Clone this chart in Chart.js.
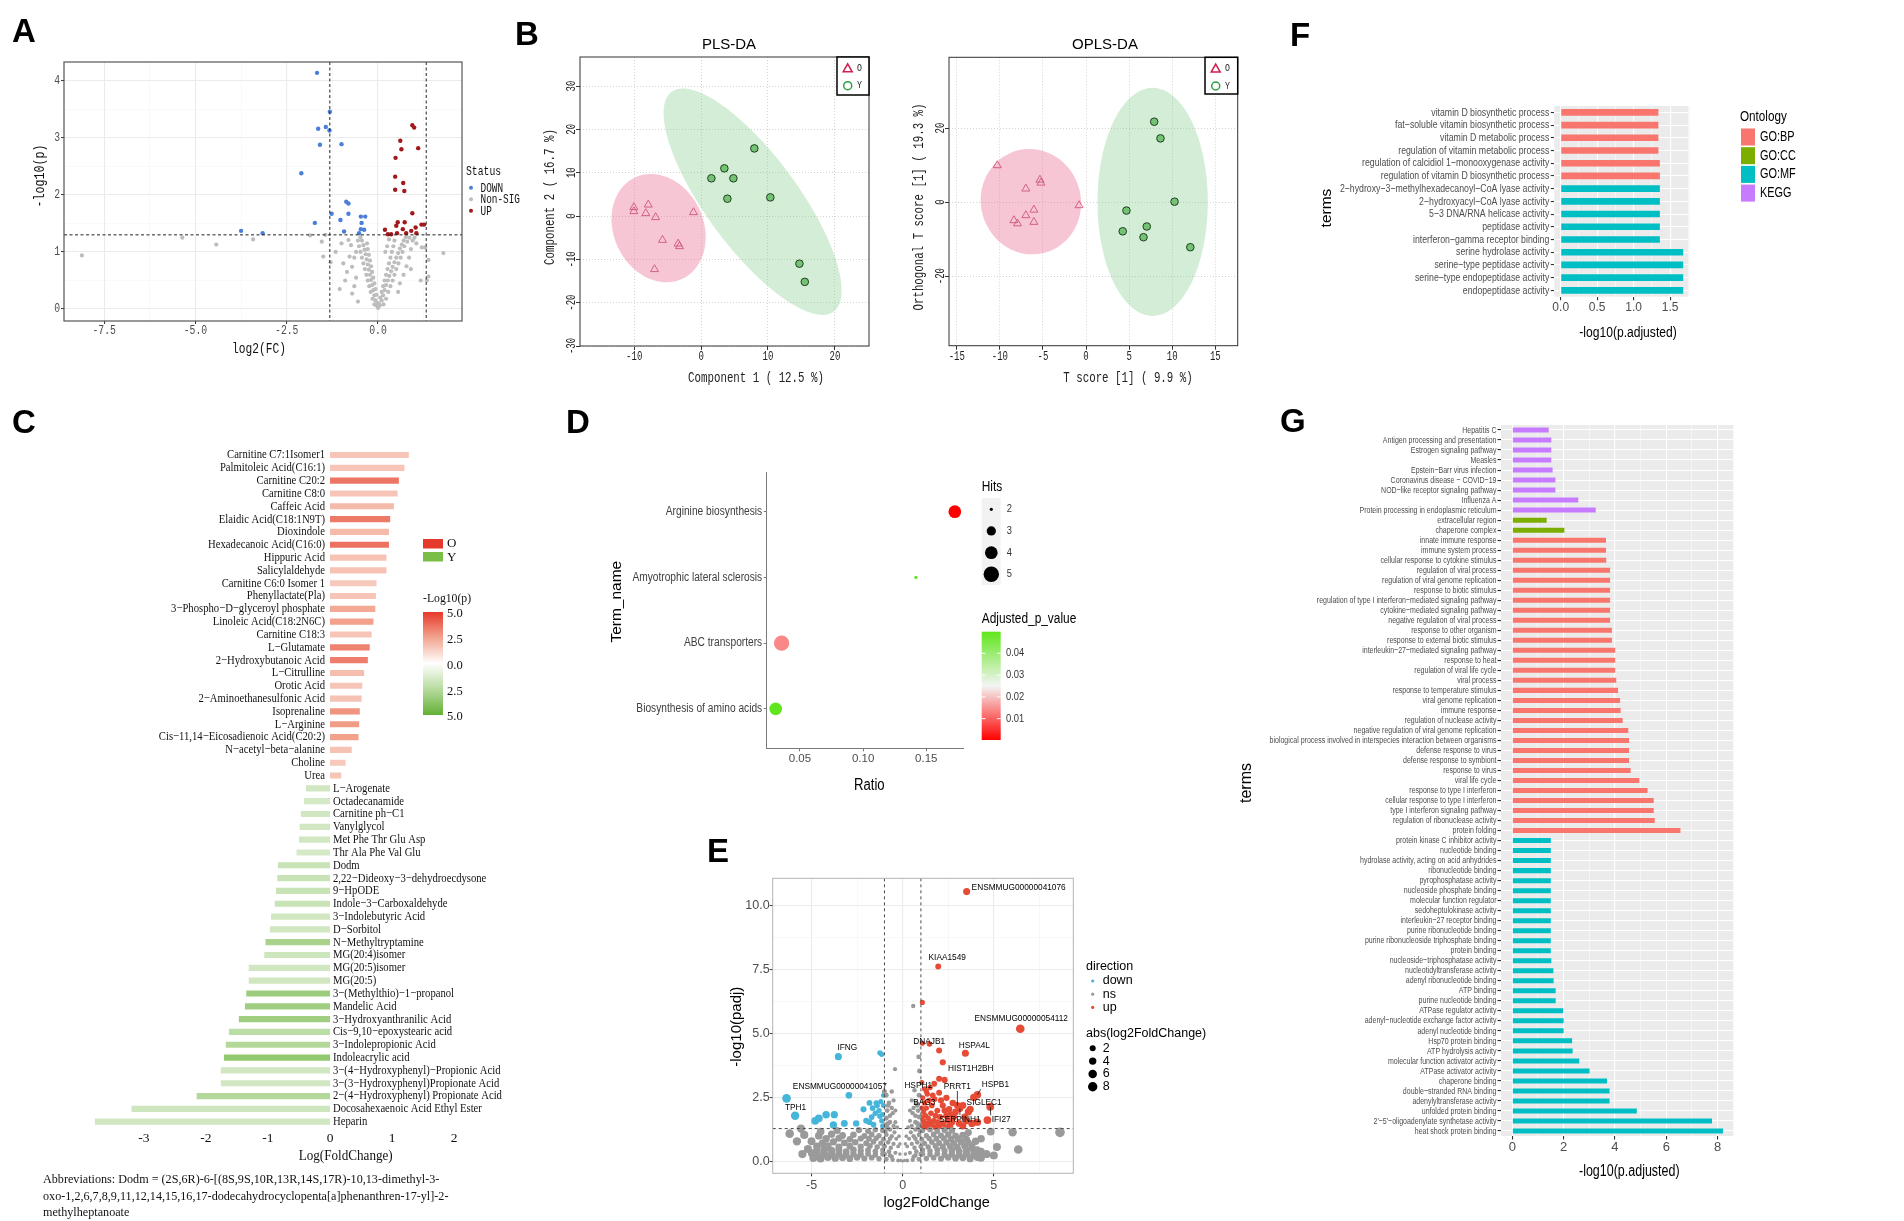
<!DOCTYPE html>
<html>
<head>
<meta charset="utf-8">
<title>Metabolomics / transcriptomics figure</title>
<script src="https://cdn.jsdelivr.net/npm/chart.js@4.4.1/dist/chart.umd.min.js"></script>
<style>
  html, body { margin: 0; padding: 0; background: #fff; }
  #page { position: relative; width: 1904px; height: 1221px; overflow: hidden; background: #fff; }
  #page canvas { position: absolute; left: 0; top: 0; }
  .tag { position: absolute; font: bold 33px 'Liberation Sans', Arial, sans-serif; line-height: 33px; color: #000; }
  #abbr { position: absolute; left: 43px; top: 1171px; font: 13.5px 'Liberation Serif', serif; line-height: 16.5px; color: #111;
          white-space: nowrap; transform: scaleX(0.9); transform-origin: 0 0; }
</style>
</head>
<body>
<div id="page">
  <canvas id="chartA" width="1904" height="1221"></canvas>
  <canvas id="chartB1" width="1904" height="1221"></canvas>
  <canvas id="chartB2" width="1904" height="1221"></canvas>
  <canvas id="chartC" width="1904" height="1221"></canvas>
  <canvas id="chartD" width="1904" height="1221"></canvas>
  <canvas id="chartE" width="1904" height="1221"></canvas>
  <canvas id="chartF" width="1904" height="1221"></canvas>
  <canvas id="chartG" width="1904" height="1221"></canvas>
  <div class="tag" style="left:12px;top:14px">A</div>
  <div class="tag" style="left:515px;top:17px">B</div>
  <div class="tag" style="left:1290px;top:18px">F</div>
  <div class="tag" style="left:12px;top:405px">C</div>
  <div class="tag" style="left:566px;top:405px">D</div>
  <div class="tag" style="left:707px;top:834px">E</div>
  <div class="tag" style="left:1280px;top:404px">G</div>
  <div id="abbr">Abbreviations: Dodm = (2S,6R)-6-[(8S,9S,10R,13R,14S,17R)-10,13-dimethyl-3-<br>oxo-1,2,6,7,8,9,11,12,14,15,16,17-dodecahydrocyclopenta[a]phenanthren-17-yl]-2-<br>methylheptanoate</div>
</div>
<script>
// ---------------- data ----------------
// A: volcano of metabolites, [log2(FC), -log10(p)]
const aDown = [[-1.67,4.14],[-1.32,3.46],[-1.64,3.16],[-1.43,3.19],[-1.33,3.13],[-1.59,2.88],[-1.0,2.89],[-2.1,2.38],
  [-0.87,1.88],[-0.81,1.85],[-1.27,1.67],[-0.81,1.67],[-1.73,1.51],[-1.03,1.56],[-0.47,1.62],[-0.35,1.62],[-0.45,1.51],
  [-3.75,1.37],[-3.16,1.33],[-0.93,1.36],[-0.47,1.40],[-0.38,1.39],[-0.52,1.33]];
const aUp = [[0.94,3.22],[0.99,3.18],[0.61,2.95],[0.64,2.80],[1.10,2.82],[0.48,2.65],[0.47,2.32],[0.69,2.21],[0.47,2.09],
  [0.72,2.07],[0.94,1.68],[0.54,1.52],[0.73,1.52],[0.50,1.46],[1.03,1.43],[1.19,1.48],[1.26,1.48],[0.19,1.39],[0.68,1.40],
  [0.91,1.37],[0.27,1.31],[0.36,1.31],[0.52,1.33],[0.77,1.33],[1.05,1.33]];
const aNonSig = [[-8.11,0.94],[-5.36,1.25],[-4.43,1.13],[-3.42,1.22],
  [0,0.02],[-0.02,0.1],[0.02,0.1],
  [-0.04,0.06],[-0.07,0.15],[-0.1,0.24],[-0.13,0.33],[-0.16,0.42],[-0.19,0.51],[-0.22,0.6],[-0.25,0.69],[-0.28,0.78],
  [-0.31,0.87],[-0.34,0.96],[-0.37,1.04],[-0.4,1.12],[-0.44,1.2],[-0.48,1.26],
  [-0.1,0.08],[-0.15,0.18],[-0.2,0.3],[-0.24,0.4],[-0.28,0.5],[-0.32,0.6],[-0.36,0.7],[-0.4,0.8],[-0.44,0.9],[-0.48,1.0],
  [-0.52,1.1],[-0.55,1.2],
  [-0.04,0.25],[-0.07,0.35],[-0.1,0.45],[-0.13,0.55],[-0.16,0.65],[-0.19,0.75],[-0.22,0.85],[-0.25,0.95],[-0.28,1.05],[-0.3,1.15],
  [-0.81,1.21],[-0.74,1.12],[-0.78,0.92],[-0.71,0.74],[-0.9,0.5],[-0.71,0.27],[-0.55,0.13],[-1.16,1.0],[-1.3,0.82],
  [-1.5,0.92],[-1.54,1.18],[-1.44,1.3],[-1.86,1.29],[-0.6,0.55],[-0.65,0.9],[-0.85,0.65],[-0.95,0.8],[-1.05,0.35],
  [-0.6,1.0],[-1.0,1.15],[-0.65,0.4],
  [0.05,0.06],[0.1,0.15],[0.14,0.24],[0.18,0.33],[0.22,0.42],[0.27,0.5],[0.31,0.58],[0.36,0.66],[0.4,0.74],[0.45,0.82],
  [0.5,0.9],[0.55,0.98],[0.6,1.06],[0.65,1.13],[0.7,1.2],[0.76,1.26],
  [0.06,0.2],[0.1,0.3],[0.14,0.4],[0.18,0.5],[0.22,0.6],[0.26,0.7],[0.3,0.8],[0.34,0.9],[0.38,1.0],[0.42,1.1],[0.45,1.2],
  [0.15,0.08],[0.22,0.18],[0.28,0.3],[0.34,0.4],[0.4,0.5],[0.45,0.6],[0.5,0.7],[0.56,0.8],[0.62,0.9],[0.67,1.0],[0.72,1.1],
  [0.8,1.18],[0.86,1.25],
  [0.6,0.45],[0.7,0.6],[0.78,0.75],[0.85,0.9],[0.9,1.05],[0.95,1.2],[1.0,1.25],[0.55,0.3],[0.9,0.7],[1.2,1.08],[1.29,1.08],
  [1.38,0.86],[1.38,0.57],[1.17,0.5],[1.34,0.5],[1.79,0.98],[1.05,1.15],[0.3,1.22],[0.25,1.1],[0.2,1.0]];
const aXTicks = [-7.5, -6.25, -5, -3.75, -2.5, -1.25, 0, 1.25];
const aYTicks = [0, 0.5, 1, 1.5, 2, 2.5, 3, 3.5, 4];
const aFcCut = 1.32, aPCut = 1.3;
const aStatus = ['DOWN', 'Non-SIG', 'UP'];

// B: PLS-DA / OPLS-DA scores
const plsO = [[-10.05,2.0],[-10.05,1.08],[-7.9,2.6],[-8.26,0.62],[-6.8,-0.3],[-5.77,-5.54],[-3.43,-6.4],[-3.23,-7.0],[-1.14,0.85],[-6.96,-12.3]];
const plsY = [[1.54,8.7],[3.48,11.0],[4.83,8.7],[3.93,4.0],[7.96,15.6],[10.35,4.3],[14.7,-11.0],[15.5,-15.2]];
const oplsO = [[-10.3,9.9],[-5.35,6.0],[-5.23,5.2],[-6.98,3.6],[-0.81,-0.9],[-6.05,-2.1],[-6.98,-3.6],[-8.37,-4.95],[-7.95,-5.8],[-6.05,-5.4]];
const oplsY = [[7.91,21.7],[8.64,17.2],[10.27,0.1],[4.69,-2.3],[7.05,-6.6],[4.26,-7.9],[6.67,-9.5],[12.1,-12.2]];
// confidence ellipses: centre x, centre y, semi-axis u (x,y), semi-axis v (x,y)
const plsEllO = [-6.35, -2.8, 3.53, -11.7, 6.09, 4.39];
const plsEllY = [7.7, 3.3, 12.07, -25.4, 5.61, 6.12];
const oplsEllO = [-6.4, 0.1, 1.6, -13.8, 5.6, 3.5];
const oplsEllY = [7.73, 0.05, 0, 30.8, 6.4, 0];
const plsXTicks = [-10, 0, 10, 20], plsYTicks = [-30, -20, -10, 0, 10, 20, 30];
const oplsXTicks = [-15, -10, -5, 0, 5, 10, 15], oplsYTicks = [-20, 0, 20];

// C: differential metabolites
const cNames = ['Carnitine C7:1Isomer1','Palmitoleic Acid(C16:1)','Carnitine C20:2','Carnitine C8:0','Caffeic Acid',
  'Elaidic Acid(C18:1N9T)','Dioxindole','Hexadecanoic Acid(C16:0)','Hippuric Acid','Salicylaldehyde','Carnitine C6:0 Isomer 1',
  'Phenyllactate(Pla)','3−Phospho−D−glyceroyl phosphate','Linoleic Acid(C18:2N6C)','Carnitine C18:3','L−Glutamate',
  '2−Hydroxybutanoic Acid','L−Citrulline','Orotic Acid','2−Aminoethanesulfonic Acid','Isoprenaline','L−Arginine',
  'Cis−11,14−Eicosadienoic Acid(C20:2)','N−acetyl−beta−alanine','Choline','Urea',
  'L−Arogenate','Octadecanamide','Carnitine ph−C1','Vanylglycol','Met Phe Thr Glu Asp','Thr Ala Phe Val Glu','Dodm',
  '2,22−Dideoxy−3−dehydroecdysone','9−HpODE','Indole−3−Carboxaldehyde','3−Indolebutyric Acid','D−Sorbitol',
  'N−Methyltryptamine','MG(20:4)isomer','MG(20:5)isomer','MG(20:5)','3−(Methylthio)−1−propanol','Mandelic Acid',
  '3−Hydroxyanthranilic Acid','Cis−9,10−epoxystearic acid','3−Indolepropionic Acid','Indoleacrylic acid',
  '3−(4−Hydroxyphenyl)−Propionic Acid','3−(3−Hydroxyphenyl)Propionate Acid','2−(4−Hydroxyphenyl) Propionate Acid',
  'Docosahexaenoic Acid Ethyl Ester','Heparin'];
const cLogFC = [1.27,1.20,1.11,1.09,1.03,0.97,0.95,0.95,0.91,0.91,0.75,0.74,0.73,0.70,0.67,0.64,0.61,0.55,0.52,0.51,0.48,0.47,0.46,0.35,0.25,0.18,
  -0.39,-0.42,-0.47,-0.49,-0.50,-0.54,-0.84,-0.85,-0.87,-0.89,-0.95,-0.97,-1.04,-1.06,-1.31,-1.31,-1.35,-1.37,-1.47,-1.63,-1.68,-1.71,-1.76,-1.76,-2.15,-3.20,-3.79];
const cLogP = [1.6,1.6,3.6,1.6,1.9,3.5,1.9,3.7,1.7,1.7,1.5,1.6,2.4,2.6,1.6,3.3,3.4,1.8,1.6,1.7,2.9,2.7,2.6,1.7,1.5,1.6,
  1.6,1.5,1.6,1.6,1.6,1.5,1.9,1.9,1.9,1.9,1.6,1.6,2.9,1.7,1.6,1.6,3.3,3.2,3.2,2.3,2.6,3.6,1.6,1.6,2.6,1.7,1.6];
const cXTicks = [-3, -2, -1, 0, 1, 2];
const cBarLabels = ['5.0', '2.5', '0.0', '2.5', '5.0'];

// D: pathway enrichment bubbles
const dTerms = ['Arginine biosynthesis', 'Amyotrophic lateral sclerosis', 'ABC transporters', 'Biosynthesis of amino acids'];
const dRatio = [0.1726, 0.1418, 0.0355, 0.0308];
const dHits = [4, 2, 5, 4];
const dPadj = [0.0002, 0.0499, 0.014, 0.0495];
const dXTicks = [0.05, 0.10, 0.15];
const dHitKeys = [2, 3, 4, 5];
const dBarTicks = [0.04, 0.03, 0.02, 0.01];

// E: volcano of genes, [log2FoldChange, -log10(padj)]
const eUp = [[3.51,10.56],[1.95,7.63],[1.08,6.23],[6.45,5.2],[1.08,4.63],[1.47,4.6],[2.0,4.35],[3.44,4.24],[2.2,3.89],
  [2.0,3.25],[1.73,3.05],[4.1,2.62],[3.9,2.52],[3.0,2.2],[3.3,2.2],[3.7,2.05],[4.8,2.15],[4.65,1.63],[4.1,1.55],[3.14,2.08],[1.35,2.65],
  [1.1,2.5],[1.2,2.3],[1.3,2.1],[1.15,1.95],[1.25,1.8],[1.4,1.7],[1.5,1.55],[1.1,1.5],[1.2,1.4],[1.35,1.35],[1.6,1.45],
  [1.7,1.6],[1.8,1.8],[1.9,2.0],[1.6,2.2],[1.45,2.4],[1.3,2.75],[1.2,2.85],[1.5,2.9],[1.65,2.6],[2.0,2.7],[2.1,2.4],
  [2.2,2.2],[2.3,2.0],[2.4,1.8],[2.5,1.6],[2.2,1.5],[2.0,1.4],[2.6,1.4],[2.7,1.55],[2.8,1.75],[2.9,1.95],[2.55,2.05],
  [2.75,2.3],[2.4,2.5],[1.05,1.75],[1.05,2.1],[1.8,1.35],[2.35,1.35],[3.1,1.5],[3.3,1.4],[3.5,1.6],[3.8,1.5],[3.6,1.95],
  [3.4,1.75],[1.75,2.45],[2.05,1.75],[1.55,1.9],[1.9,1.55],[2.6,1.85],[1.05,3.1],[2.3,3.2],[1.05,1.4],[1.15,1.6],[1.3,1.5]];
const eDown = [[-6.37,2.48],[-5.9,1.8],[-4.8,1.6],[-4.6,1.7],[-4.2,1.84],[-3.75,1.84],[-3.8,1.44],[-3.2,1.5],[-2.55,1.5],
  [-2.15,2.05],[-1.82,2.3],[-1.65,2.1],[-1.45,2.3],[-1.25,1.78],[-1.82,1.55],[-1.6,1.45],[-1.15,1.6],[-1.05,2.2],[-1.4,2.2],
  [-1.1,1.85],[-1.3,2.0],[-1.2,2.35],[-1.05,2.6],[-1.7,1.75],[-3.53,4.11],[-1.25,4.26],[-1.15,4.2],[-2.95,2.6],[-1.5,1.9],
  [-2.0,1.6],[-1.1,1.4]];
const eNs = [[-4.9,0.15],[-4.5,0.12],[-4.1,0.18],[-3.7,0.14],[-3.3,0.16],[-2.9,0.12],[-2.5,0.17],[-2.1,0.13],[-1.7,0.16],
  [-1.3,0.12],[-0.9,0.1],[-0.55,0.08],[-0.25,0.05],[0.25,0.05],[0.55,0.08],[0.9,0.1],[1.3,0.13],[1.7,0.16],[2.1,0.12],
  [2.5,0.17],[2.9,0.14],[3.3,0.16],[3.7,0.12],[4.1,0.18],[4.6,0.3],
  [-4.7,0.28],[-4.3,0.3],[-3.9,0.29],[-3.5,0.31],[-3.1,0.27],[-2.7,0.3],[-2.3,0.28],[-1.9,0.31],[-1.5,0.27],[-1.1,0.3],
  [-0.7,0.25],[0.7,0.25],[1.1,0.3],[1.5,0.28],[1.9,0.31],[2.3,0.27],[2.7,0.3],[3.1,0.28],[3.5,0.31],[3.9,0.27],[4.3,0.15],
  [-5.2,0.5],[-4.7,0.42],[-4.3,0.48],[-3.9,0.44],[-3.5,0.46],[-3.1,0.4],[-2.7,0.47],[-2.3,0.43],[-1.9,0.45],[-1.5,0.41],
  [-1.1,0.46],[-0.75,0.4],[-0.4,0.35],[0.4,0.35],[0.75,0.4],[1.1,0.46],[1.5,0.42],[1.9,0.47],[2.3,0.43],[2.7,0.46],
  [3.1,0.41],[3.5,0.45],[3.9,0.43],[4.3,0.4],
  [-4.7,0.6],[-4.1,0.62],[-3.5,0.58],[-2.9,0.61],[-2.3,0.59],[-1.8,0.62],[-1.4,0.58],[-1.0,0.61],[-0.65,0.55],[0.65,0.55],
  [1.0,0.6],[1.4,0.58],[1.8,0.62],[2.2,0.59],[2.6,0.61],[3.0,0.57],[3.4,0.62],[3.8,0.6],
  [-5.0,0.8],[-4.4,0.72],[-3.8,0.78],[-3.2,0.74],[-2.6,0.76],[-2.0,0.72],[-1.6,0.78],[-1.2,0.73],[-0.8,0.76],[-0.5,0.7],
  [0.5,0.7],[0.8,0.76],[1.2,0.72],[1.6,0.77],[2.0,0.73],[2.4,0.76],[2.8,0.72],[3.2,0.78],[3.6,0.74],[4.0,0.8],
  [-4.2,0.9],[-3.5,0.92],[-2.9,0.88],[-2.3,0.91],[-1.85,0.9],[-1.45,0.92],[-1.05,0.88],[-0.7,0.9],[0.7,0.9],[1.05,0.88],
  [1.45,0.91],[1.85,0.9],[2.25,0.92],[2.65,0.89],[3.05,0.9],[3.5,0.88],
  [-5.4,1.05],[-4.6,1.02],[-3.9,1.08],[-3.3,1.03],[-2.7,1.06],[-2.1,1.01],[-1.7,1.07],[-1.3,1.02],[-0.9,1.06],[-0.6,1.0],
  [0.6,1.0],[0.9,1.05],[1.3,1.02],[1.7,1.07],[2.1,1.03],[2.5,1.06],[2.9,1.01],[3.3,1.04],
  [-5.58,1.3],[-4.5,1.18],[-3.6,1.22],[-2.4,1.24],[-1.9,1.2],[-1.5,1.25],[-1.1,1.22],[-0.7,1.26],[0.7,1.26],[1.1,1.22],
  [1.5,1.25],[1.9,1.2],[2.3,1.24],[2.7,1.22],
  [-0.8,1.5],[-0.7,1.8],[-0.6,2.1],[-0.5,2.4],[-0.9,1.7],[-0.75,2.3],[-0.85,2.0],[-0.95,1.45],[-0.9,2.6],[-0.6,2.75],
  [-0.42,3.62],[0.88,4.1],[0.92,3.55],[0.58,6.09],[0.8,1.5],[0.7,1.8],[0.6,2.1],[0.5,2.4],[0.9,1.75],[0.75,2.3],[0.85,2.0],
  [0.95,1.45],[0.9,2.6],[0.65,2.8],[0.4,1.6],[-0.4,1.55],[0.3,1.35],[-0.3,1.35],[-0.2,1.0],[0.2,1.0],[-0.15,0.7],[0.15,0.7],
  [-0.85,1.35],[-0.7,1.55],[-0.55,1.9],[0.55,1.9],[0.7,1.55],[0.85,1.35],[-0.8,2.2],[0.8,2.2],[-0.5,1.4],[0.5,1.4],
  [-0.95,1.2],[0.95,1.2],[-0.4,2.0],[0.4,2.0],
  [0,0.02],[-0.1,0.05],[0.1,0.05],[-0.15,0.3],[0.15,0.3],[-0.25,0.6],[0.25,0.6],[-0.35,0.9],[0.35,0.9],[-0.45,1.15],
  [0.45,1.15],[-0.6,0.2],[0.6,0.2],[-1.0,0.3],[1.0,0.3],
  [8.63,1.15],[6.03,1.15],[6.34,0.48],[5.17,0.58],[4.6,0.3],[4.09,0.46],[4.83,1.18],[3.6,1.14],[-4.98,0.33],[-6.2,1.1],
  [-5.8,0.8],[-1.0,2.75],[4.3,0.9],[5.0,0.25],[-5.5,0.3]];
const eLabName = ['ENSMMUG00000041076','KIAA1549','ENSMMUG00000054112','DNAJB1','HSPA4L','HIST1H2BH','IFNG',
  'ENSMMUG00000041057','TPH1','HSPH1','PRRT1','HSPB1','BAG3','SIGLEC1','SERPINH1','IFI27'];
const eLabX = [3.51, 1.95, 6.45, 2.0, 3.44, 2.2, -3.53, -2.95, -6.37, 1.73, 3.0, 4.1, 1.35, 3.7, 3.14, 4.8];
const eLabY = [10.56, 7.63, 5.2, 4.35, 4.24, 3.89, 4.11, 2.6, 2.48, 3.05, 2.2, 2.62, 2.65, 2.05, 2.08, 2.15];
const eXTicks = [-5, -2.5, 0, 2.5, 5, 7.5];
const eYTicks = [0, 1.25, 2.5, 3.75, 5, 6.25, 7.5, 8.75, 10];
const eFcCut = [-1, 1], ePCut = 1.3;
const eDirections = ['down', 'ns', 'up'];
const eSizeKeys = [2, 4, 6, 8];

// F: GO enrichment (first gene set)
const fTerms = ['vitamin D biosynthetic process','fat−soluble vitamin biosynthetic process','vitamin D metabolic process',
  'regulation of vitamin metabolic process','regulation of calcidiol 1−monooxygenase activity',
  'regulation of vitamin D biosynthetic process','2−hydroxy−3−methylhexadecanoyl−CoA lyase activity',
  '2−hydroxyacyl−CoA lyase activity','5−3 DNA/RNA helicase activity','peptidase activity','interferon−gamma receptor binding',
  'serine hydrolase activity','serine−type peptidase activity','serine−type endopeptidase activity','endopeptidase activity'];
const fValues = [1.34,1.34,1.34,1.34,1.36,1.36,1.36,1.36,1.36,1.36,1.36,1.68,1.68,1.68,1.68];
const fGroups = [['GO:BP', 6], ['GO:MF', 9]];
const fXTicks = [0, 0.25, 0.5, 0.75, 1, 1.25, 1.5, 1.75];
const ontologyKeys = ['GO:BP', 'GO:CC', 'GO:MF', 'KEGG'];

// G: GO / KEGG enrichment (second gene set)
const gTerms = ['Hepatitis C','Antigen processing and presentation','Estrogen signaling pathway','Measles',
  'Epstein−Barr virus infection','Coronavirus disease − COVID−19','NOD−like receptor signaling pathway','Influenza A',
  'Protein processing in endoplasmic reticulum','extracellular region','chaperone complex','innate immune response',
  'immune system process','cellular response to cytokine stimulus','regulation of viral process',
  'regulation of viral genome replication','response to biotic stimulus',
  'regulation of type I interferon−mediated signaling pathway','cytokine−mediated signaling pathway',
  'negative regulation of viral process','response to other organism','response to external biotic stimulus',
  'interleukin−27−mediated signaling pathway','response to heat','regulation of viral life cycle','viral process',
  'response to temperature stimulus','viral genome replication','immune response','regulation of nuclease activity',
  'negative regulation of viral genome replication',
  'biological process involved in interspecies interaction between organisms','defense response to virus',
  'defense response to symbiont','response to virus','viral life cycle','response to type I interferon',
  'cellular response to type I interferon','type I interferon signaling pathway','regulation of ribonuclease activity',
  'protein folding','protein kinase C inhibitor activity','nucleotide binding','hydrolase activity, acting on acid anhydrides',
  'ribonucleotide binding','pyrophosphatase activity','nucleoside phosphate binding','molecular function regulator',
  'sedoheptulokinase activity','interleukin−27 receptor binding','purine ribonucleotide binding',
  'purine ribonucleoside triphosphate binding','protein binding','nucleoside−triphosphatase activity',
  'nucleotidyltransferase activity','adenyl ribonucleotide binding','ATP binding','purine nucleotide binding',
  'ATPase regulator activity','adenyl−nucleotide exchange factor activity','adenyl nucleotide binding',
  'Hsp70 protein binding','ATP hydrolysis activity','molecular function activator activity','ATPase activator activity',
  'chaperone binding','double−stranded RNA binding','adenylyltransferase activity','unfolded protein binding',
  "2'−5'−oligoadenylate synthetase activity",'heat shock protein binding'];
const gValues = [1.42,1.52,1.52,1.52,1.57,1.68,1.68,2.57,3.25,
  1.34,2.03,
  3.65,3.65,3.66,3.81,3.81,3.81,3.81,3.81,3.81,3.88,3.88,4.01,4.01,4.01,4.05,4.12,4.20,4.22,4.30,4.52,4.55,4.55,4.55,4.61,
  4.95,5.27,5.51,5.51,5.55,6.55,
  1.50,1.50,1.50,1.50,1.50,1.50,1.50,1.50,1.50,1.50,1.50,1.50,1.52,1.60,1.61,1.69,1.69,1.98,2.00,2.00,2.33,2.35,2.61,3.01,
  3.69,3.79,3.79,4.85,7.78,8.21];
const gGroups = [['KEGG', 9], ['GO:CC', 2], ['GO:BP', 30], ['GO:MF', 30]];
const gXTicks = [0, 1, 2, 3, 4, 5, 6, 7, 8];

// ---------------- helpers ----------------
const W = 1904, H = 1221;
const SANS = "'Liberation Sans', Arial, sans-serif";
const SERIF = "'Liberation Serif', 'Times New Roman', serif";
const MONO = "'Liberation Mono', 'DejaVu Sans Mono', monospace";
Chart.defaults.font.family = SANS;
Chart.defaults.color = '#4D4D4D';

const el = id => document.getElementById(id).getContext('2d');
const pts = arr => arr.map(p => ({ x: p[0], y: p[1] }));
const isMul = (v, step) => Math.abs(v / step - Math.round(v / step)) < 1e-6;
const expand = groups => groups.flatMap(([k, n]) => Array(n).fill(k));
const fixW = w => s => { s.width = w; };
const fixH = h => s => { s.height = h; };
const setTicks = vals => s => { s.ticks = vals.map(v => ({ value: v })); };

function frame(l, t, r, b, yw, xh) {
  return { left: l - yw, top: t, right: W - r, bottom: H - b - xh };
}
function opts(padding, scales, indexAxis) {
  const o = { responsive: false, animation: false, devicePixelRatio: 1, events: [],
    layout: { padding }, plugins: { legend: { display: false }, tooltip: { enabled: false } }, scales };
  if (indexAxis) o.indexAxis = indexAxis;
  return o;
}
function put(ctx, s, x, y, o = {}) {
  ctx.save();
  ctx.translate(x, y);
  if (o.rot) ctx.rotate(o.rot);
  if (o.sx) ctx.scale(o.sx, 1);
  ctx.font = o.font || ('12px ' + SANS);
  ctx.fillStyle = o.color || '#000';
  ctx.textAlign = o.align || 'center';
  ctx.textBaseline = o.base || 'middle';
  ctx.fillText(s, 0, 0);
  ctx.restore();
}
function line(ctx, x1, y1, x2, y2) { ctx.beginPath(); ctx.moveTo(x1, y1); ctx.lineTo(x2, y2); ctx.stroke(); }
function box(ctx, ca, color, lw) {
  ctx.save(); ctx.strokeStyle = color; ctx.lineWidth = lw;
  ctx.strokeRect(ca.left, ca.top, ca.right - ca.left, ca.bottom - ca.top); ctx.restore();
}
function dot(ctx, x, y, r, fill) { ctx.beginPath(); ctx.arc(x, y, r, 0, 2 * Math.PI); ctx.fillStyle = fill; ctx.fill(); }
const hex = c => [1, 3, 5].map(i => parseInt(c.substr(i, 2), 16));
function mix(c1, c2, t) {
  const a = hex(c1), b = hex(c2); t = Math.max(0, Math.min(1, t));
  return 'rgb(' + a.map((v, i) => Math.round(v + (b[i] - v) * t)).join(',') + ')';
}
function ramp(stops, t) {
  t = Math.max(0, Math.min(1, t));
  for (let i = 1; i < stops.length; i++) {
    if (t <= stops[i][0]) {
      const [p0, c0] = stops[i - 1], [p1, c1] = stops[i];
      return mix(c0, c1, (t - p0) / (p1 - p0));
    }
  }
  return stops[stops.length - 1][1];
}
function ggLinear(min, max, ticks, major, fit, gridMajor, gridMinor, ticksOpt) {
  const maj = c => c.tick && isMul(c.tick.value, major);
  return { type: 'linear', min, max, afterBuildTicks: setTicks(ticks), afterFit: fit,
    border: { display: false },
    grid: { color: c => maj(c) ? gridMajor : gridMinor, lineWidth: c => maj(c) ? 1.1 : 0.55,
            tickLength: 3, tickWidth: 1, tickColor: c => maj(c) ? '#333' : 'rgba(0,0,0,0)' },
    ticks: ticksOpt || { display: false } };
}

// ---------------- A ----------------
const aColors = ['#4B7FD7', '#BDBDBD', '#A2181B'];
new Chart(el('chartA'), {
  type: 'scatter',
  data: { datasets: [
    { data: pts(aNonSig), backgroundColor: aColors[1], pointRadius: 2.1, borderWidth: 0 },
    { data: pts(aDown), backgroundColor: aColors[0], pointRadius: 2.2, borderWidth: 0 },
    { data: pts(aUp), backgroundColor: aColors[2], pointRadius: 2.2, borderWidth: 0 }
  ] },
  options: opts(frame(64, 62, 462, 321, 64, 40), {
    x: ggLinear(-8.6, 2.3, aXTicks, 2.5, fixH(40), '#EBEBEB', '#F4F4F4'),
    y: ggLinear(-0.21, 4.33, aYTicks, 1, fixW(64), '#EBEBEB', '#F4F4F4')
  }),
  plugins: [{
    id: 'panelA',
    afterDatasetsDraw(chart) {
      const { ctx, chartArea: ca, scales: { x, y } } = chart;
      ctx.save(); ctx.strokeStyle = '#222'; ctx.lineWidth = 1; ctx.setLineDash([3, 2.5]);
      [-aFcCut, aFcCut].forEach(v => { const px = x.getPixelForValue(v); line(ctx, px, ca.top, px, ca.bottom); });
      const py = y.getPixelForValue(aPCut); line(ctx, ca.left, py, ca.right, py);
      ctx.restore();
    },
    afterDraw(chart) {
      const { ctx, chartArea: ca, scales: { x, y } } = chart;
      box(ctx, ca, '#555', 1.2);
      const f = s => s + 'px ' + MONO;
      aXTicks.filter(v => isMul(v, 2.5)).forEach(v =>
        put(ctx, v.toFixed(1), x.getPixelForValue(v), 331, { font: f(13), sx: 0.75, color: '#4D4D4D' }));
      aYTicks.filter(v => isMul(v, 1)).forEach(v =>
        put(ctx, String(v), ca.left - 4, y.getPixelForValue(v), { font: f(13), sx: 0.75, align: 'right', color: '#4D4D4D' }));
      put(ctx, 'log2(FC)', 259, 349, { font: f(15), sx: 0.75, color: '#111' });
      put(ctx, '-log10(p)', 40, 176, { font: f(15), sx: 0.78, color: '#111', rot: -Math.PI / 2 });
      put(ctx, 'Status', 466, 172, { font: f(13), sx: 0.75, align: 'left', color: '#111' });
      aStatus.forEach((s, i) => {
        const cy = 187.7 + i * 11.5;
        dot(ctx, 471, cy, 2, aColors[i]);
        put(ctx, s, 480.5, cy + 0.5, { font: f(12.5), sx: 0.75, align: 'left', color: '#111' });
      });
    }
  }]
});

// ---------------- B ----------------
function ellipse(ctx, x, y, e, fill) {
  ctx.beginPath();
  for (let k = 0; k <= 90; k++) {
    const t = k / 90 * 2 * Math.PI;
    const px = x.getPixelForValue(e[0] + e[2] * Math.cos(t) + e[4] * Math.sin(t));
    const py = y.getPixelForValue(e[1] + e[3] * Math.cos(t) + e[5] * Math.sin(t));
    if (k) ctx.lineTo(px, py); else ctx.moveTo(px, py);
  }
  ctx.closePath(); ctx.fillStyle = fill; ctx.fill();
}
function pcaChart(id, P) {
  const grid = { color: '#D4D4D4', lineWidth: 1, tickLength: 4, tickColor: '#333' };
  new Chart(el(id), {
    type: 'scatter',
    data: { datasets: [
      { data: pts(P.o), pointStyle: 'triangle', pointRadius: 4.6, borderWidth: 1,
        borderColor: 'rgba(205,85,125,0.9)', backgroundColor: 'rgba(0,0,0,0)' },
      { data: pts(P.y), pointStyle: 'circle', pointRadius: 3.8, borderWidth: 1,
        borderColor: '#1F3F1F', backgroundColor: '#74C274' }
    ] },
    options: opts(frame(P.area[0], P.area[1], P.area[2], P.area[3], 40, 40), {
      x: { type: 'linear', min: P.xr[0], max: P.xr[1], afterBuildTicks: setTicks(P.xt), afterFit: fixH(40),
           border: { display: false, dash: [1, 2] }, grid, ticks: { display: false } },
      y: { type: 'linear', min: P.yr[0], max: P.yr[1], afterBuildTicks: setTicks(P.yt), afterFit: fixW(40),
           border: { display: false, dash: [1, 2] }, grid, ticks: { display: false } }
    }),
    plugins: [{
      id: 'pca',
      beforeDatasetsDraw(chart) {
        const { ctx, scales: { x, y } } = chart;
        ellipse(ctx, x, y, P.ellO, 'rgba(236,112,148,0.4)');
        ellipse(ctx, x, y, P.ellY, 'rgba(120,200,130,0.33)');
      },
      afterDraw(chart) {
        const { ctx, chartArea: ca, scales: { x, y } } = chart;
        box(ctx, ca, '#333', 1);
        const f = s => s + 'px ' + MONO;
        P.xt.forEach(v => put(ctx, String(v), x.getPixelForValue(v), P.xty, { font: f(12), sx: 0.75, color: '#222' }));
        P.yt.forEach(v => put(ctx, String(v), P.ytx, y.getPixelForValue(v), { font: f(12), sx: 0.75, color: '#222', rot: -Math.PI / 2 }));
        put(ctx, P.title, P.titlePos[0], P.titlePos[1], { font: '15px ' + SANS, color: '#000' });
        put(ctx, P.xTitle, P.xTitlePos[0], P.xTitlePos[1], { font: f(14), sx: 0.77, color: '#222' });
        put(ctx, P.yTitle, P.yTitlePos[0], P.yTitlePos[1], { font: f(14), sx: 0.77, color: '#222', rot: -Math.PI / 2 });
        const [l, t, r, b] = P.legend;
        ctx.save();
        ctx.fillStyle = '#fff'; ctx.fillRect(l, t, r - l, b - t);
        ctx.strokeStyle = '#000'; ctx.lineWidth = 1.5; ctx.strokeRect(l, t, r - l, b - t);
        ctx.strokeStyle = '#D0204F'; ctx.lineWidth = 1.5;
        ctx.beginPath(); ctx.moveTo(l + 10.7, t + 6.8); ctx.lineTo(l + 15.2, t + 14.8); ctx.lineTo(l + 6.2, t + 14.8); ctx.closePath(); ctx.stroke();
        ctx.strokeStyle = '#2EA043';
        ctx.beginPath(); ctx.arc(l + 10.7, t + 28.7, 4, 0, 2 * Math.PI); ctx.stroke();
        ctx.restore();
        put(ctx, 'O', l + 20, t + 11, { font: f(11), sx: 0.75, align: 'left', color: '#222' });
        put(ctx, 'Y', l + 20, t + 28.5, { font: f(11), sx: 0.75, align: 'left', color: '#222' });
      }
    }]
  });
}
pcaChart('chartB1', {
  o: plsO, y: plsY, ellO: plsEllO, ellY: plsEllY,
  area: [580, 57, 869, 346], xr: [-18.1, 25.1], yr: [-30, 36.7], xt: plsXTicks, yt: plsYTicks,
  xty: 356.7, ytx: 571.7, title: 'PLS-DA', titlePos: [729, 45],
  xTitle: 'Component 1 ( 12.5 %)', xTitlePos: [756, 378], yTitle: 'Component 2 ( 16.7 %)', yTitlePos: [550, 197],
  legend: [837, 57, 869, 95]
});
pcaChart('chartB2', {
  o: oplsO, y: oplsY, ellO: oplsEllO, ellY: oplsEllY,
  area: [949, 57.3, 1237.7, 345.7], xr: [-15.9, 17.6], yr: [-38.8, 39.1], xt: oplsXTicks, yt: oplsYTicks,
  xty: 356.7, ytx: 941, title: 'OPLS-DA', titlePos: [1105, 45],
  xTitle: 'T score [1] ( 9.9 %)', xTitlePos: [1128, 378], yTitle: 'Orthogonal T score [1] ( 19.3 %)', yTitlePos: [919, 207],
  legend: [1205, 57.3, 1237.7, 94]
});

// ---------------- C ----------------
const cRed = [[0, '#FFFFFF'], [0.5, '#F2A58F'], [1, '#E6382A']];
const cGreen = [[0, '#FFFFFF'], [0.5, '#B7DA9E'], [1, '#62B034']];
const cColor = (fc, p) => ramp(fc > 0 ? cRed : cGreen, p / 5);
new Chart(el('chartC'), {
  type: 'bar',
  data: { labels: cNames, datasets: [{ data: cLogFC, backgroundColor: cLogFC.map((v, i) => cColor(v, cLogP[i])),
    barPercentage: 0.48, categoryPercentage: 1 }] },
  options: opts(frame(80, 448.6, 500, 1128.1, 0, 30), {
    x: { type: 'linear', min: -4.03, max: 2.74, afterBuildTicks: setTicks(cXTicks), afterFit: fixH(30),
         border: { display: false }, grid: { display: false, drawTicks: false },
         ticks: { autoSkip: false, maxRotation: 0, minRotation: 0, padding: 2.5, color: '#111', font: { family: SERIF, size: 13.5 } } },
    y: { display: false }
  }, 'y'),
  plugins: [{
    id: 'panelC',
    afterDatasetsDraw(chart) {
      const { ctx, scales: { x, y } } = chart;
      const x0 = x.getPixelForValue(0);
      const font = '13px ' + SERIF;
      cNames.forEach((n, i) => {
        const py = y.getPixelForValue(i);
        if (cLogFC[i] > 0) put(ctx, n, x0 - 5, py, { font, sx: 0.82, align: 'right', color: '#111' });
        else put(ctx, n, x0 + 3, py, { font, sx: 0.82, align: 'left', color: '#111' });
      });
      put(ctx, 'Log(FoldChange)', 345.7, 1156, { font: '15px ' + SERIF, sx: 0.875, color: '#111' });
      // group legend
      ctx.fillStyle = '#E53A2B'; ctx.fillRect(423, 539, 20, 9.5);
      ctx.fillStyle = '#79BE46'; ctx.fillRect(423, 552, 20, 9.5);
      put(ctx, 'O', 447, 544, { font: '13px ' + SERIF, align: 'left', color: '#111' });
      put(ctx, 'Y', 447, 558, { font: '13px ' + SERIF, align: 'left', color: '#111' });
      // colour bar
      put(ctx, '-Log10(p)', 423, 599, { font: '13px ' + SERIF, sx: 0.9, align: 'left', color: '#111' });
      const top = 612, bot = 715;
      const g = ctx.createLinearGradient(0, top, 0, bot);
      g.addColorStop(0, ramp(cRed, 1)); g.addColorStop(0.25, ramp(cRed, 0.5)); g.addColorStop(0.5, '#FFFFFF');
      g.addColorStop(0.75, ramp(cGreen, 0.5)); g.addColorStop(1, ramp(cGreen, 1));
      ctx.fillStyle = g; ctx.fillRect(423, top, 20, bot - top);
      cBarLabels.forEach((s, k) => put(ctx, s, 447, top + 2 + k * (bot - top) / 4, { font: '12.5px ' + SERIF, align: 'left', color: '#111' }));
    }
  }]
});

// ---------------- D ----------------
const dMin = Math.min(...dPadj), dMax = Math.max(...dPadj);
const dRamp = [[0, '#FF0000'], [0.5, '#F4F4F4'], [1, '#5FE61A']];
const dColor = p => ramp(dRamp, (p - dMin) / (dMax - dMin));
const hitR = h => Math.sqrt((h - 2) / 3 * (7.7 * 7.7 - 1.6 * 1.6) + 1.6 * 1.6);
const dAxis = { display: true, color: '#7A7A7A', width: 1 };
new Chart(el('chartD'), {
  type: 'scatter',
  data: { datasets: [{ data: dRatio.map((r, i) => ({ x: r, y: i })), pointRadius: dHits.map(hitR),
    backgroundColor: dPadj.map(dColor), borderWidth: 0 }] },
  options: opts(frame(766.7, 472.3, 963.3, 748.3, 30, 40), {
    x: { type: 'linear', min: 0.0237, max: 0.1793, afterBuildTicks: setTicks(dXTicks), afterFit: fixH(40), border: dAxis,
         grid: { drawOnChartArea: false, tickLength: 3, tickColor: '#7A7A7A' },
         ticks: { autoSkip: false, maxRotation: 0, minRotation: 0, padding: 1, color: '#4D4D4D', font: { size: 11.5 }, callback: v => v.toFixed(2) } },
    y: { type: 'linear', min: -0.6, max: 3.6, reverse: true, afterBuildTicks: setTicks([0, 1, 2, 3]), afterFit: fixW(30),
         border: dAxis, grid: { drawOnChartArea: false, tickLength: 3, tickColor: '#7A7A7A' }, ticks: { display: false } }
  }),
  plugins: [{
    id: 'panelD',
    afterDraw(chart) {
      const { ctx, chartArea: ca, scales: { y } } = chart;
      dTerms.forEach((t, i) => put(ctx, t, ca.left - 4.5, y.getPixelForValue(i),
        { font: '12px ' + SANS, sx: 0.85, align: 'right', color: '#404040' }));
      put(ctx, 'Term_name', 616.7, 601.7, { font: '15.5px ' + SANS, rot: -Math.PI / 2, color: '#000' });
      put(ctx, 'Ratio', 869.3, 786, { font: '16px ' + SANS, sx: 0.82, color: '#000' });
      put(ctx, 'Hits', 981.7, 486.7, { font: '14px ' + SANS, sx: 0.85, align: 'left', color: '#000' });
      ctx.fillStyle = '#F2F2F2'; ctx.fillRect(981.7, 498, 19, 87);
      dHitKeys.forEach((h, i) => {
        const cy = 509.3 + i * 21.67;
        dot(ctx, 991.3, cy, hitR(h), '#000');
        put(ctx, String(h), 1006.7, cy, { font: '11px ' + SANS, sx: 0.85, align: 'left', color: '#333' });
      });
      put(ctx, 'Adjusted_p_value', 981.7, 619.3, { font: '14px ' + SANS, sx: 0.85, align: 'left', color: '#000' });
      const top = 631.7, bot = 740;
      const g = ctx.createLinearGradient(0, bot, 0, top);
      [0, 0.25, 0.5, 0.75, 1].forEach(t => g.addColorStop(t, ramp(dRamp, t)));
      ctx.fillStyle = g; ctx.fillRect(981.7, top, 19, bot - top);
      ctx.save(); ctx.strokeStyle = '#fff'; ctx.lineWidth = 1;
      dBarTicks.forEach(p => {
        const yy = bot - (p - dMin) / (dMax - dMin) * (bot - top);
        line(ctx, 981.7, yy, 985.5, yy); line(ctx, 996.9, yy, 1000.7, yy);
        put(ctx, p.toFixed(2), 1006, yy, { font: '11px ' + SANS, sx: 0.85, align: 'left', color: '#333' });
      });
      ctx.restore();
    }
  }]
});

// ---------------- E ----------------
const eR = v => 1.3 + 1.2 * Math.sqrt(Math.abs(v));
const eColors = ['#45B5D9', '#9A9A9A', '#E64B35'];
const eLabOff = [[52, -4], [9, -9], [1, -10], [-10, -9], [9, -8], [28, 6], [9, -9], [-9, -9], [9, 9], [-16, 2],
  [0, -19], [18, -10], [-3, 9], [14, -7], [0, 11], [11, 13]];
const eTickFont = { size: 12.5 };
new Chart(el('chartE'), {
  type: 'scatter',
  data: { datasets: [
    { data: pts(eNs), backgroundColor: eColors[1], pointRadius: c => eR(c.raw.x), borderWidth: 0 },
    { data: pts(eDown), backgroundColor: eColors[0], pointRadius: c => eR(c.raw.x), borderWidth: 0 },
    { data: pts(eUp), backgroundColor: eColors[2], pointRadius: c => eR(c.raw.x), borderWidth: 0 }
  ] },
  options: opts(frame(772.7, 878.3, 1073.3, 1173.3, 40, 30), {
    x: ggLinear(-7.13, 9.36, eXTicks, 5, fixH(30), '#EBEBEB', '#F3F3F3',
      { autoSkip: false, maxRotation: 0, minRotation: 0, padding: 1.5, color: '#4D4D4D', font: eTickFont, callback: v => isMul(v, 5) ? String(v) : '' }),
    y: ggLinear(-0.45, 11.08, eYTicks, 2.5, fixW(40), '#EBEBEB', '#F3F3F3',
      { autoSkip: false, padding: 0, color: '#4D4D4D', font: eTickFont, callback: v => isMul(v, 2.5) ? v.toFixed(1) : '' })
  }),
  plugins: [{
    id: 'panelE',
    afterDatasetsDraw(chart) {
      const { ctx, chartArea: ca, scales: { x, y } } = chart;
      ctx.save(); ctx.strokeStyle = '#4D4D4D'; ctx.lineWidth = 1; ctx.setLineDash([3, 3]);
      eFcCut.forEach(v => { const px = x.getPixelForValue(v); line(ctx, px, ca.top, px, ca.bottom); });
      const py = y.getPixelForValue(ePCut); line(ctx, ca.left, py, ca.right, py);
      ctx.restore();
      const font = '8.3px ' + SANS;
      ctx.save(); ctx.strokeStyle = '#111'; ctx.lineWidth = 0.8;
      eLabName.forEach((n, i) => {
        const px = x.getPixelForValue(eLabX[i]), py2 = y.getPixelForValue(eLabY[i]);
        const tx = px + eLabOff[i][0], ty = py2 + eLabOff[i][1];
        ctx.font = font;
        const hw = ctx.measureText(n).width / 2 + 1, hh = 4.5;
        const ex = Math.max(tx - hw, Math.min(px, tx + hw)), ey = Math.max(ty - hh, Math.min(py2, ty + hh));
        if (Math.hypot(ex - px, ey - py2) > eR(eLabX[i]) + 2) line(ctx, px, py2, ex, ey);
      });
      ctx.restore();
      eLabName.forEach((n, i) => {
        const px = x.getPixelForValue(eLabX[i]), py2 = y.getPixelForValue(eLabY[i]);
        put(ctx, n, px + eLabOff[i][0], py2 + eLabOff[i][1], { font, color: '#000' });
      });
    },
    afterDraw(chart) {
      const { ctx, chartArea: ca } = chart;
      box(ctx, ca, '#B3B3B3', 1);
      put(ctx, '-log10(padj)', 737.3, 1026.7, { font: '15px ' + SANS, rot: -Math.PI / 2, color: '#000' });
      put(ctx, 'log2FoldChange', 936.7, 1203.3, { font: '14.5px ' + SANS, color: '#000' });
      put(ctx, 'direction', 1086, 966.7, { font: '12.5px ' + SANS, align: 'left', color: '#000' });
      eDirections.forEach((d, i) => {
        const cy = 981 + i * 13.2;
        dot(ctx, 1092.7, cy, 1.6, eColors[i]);
        put(ctx, d, 1102.7, cy, { font: '12.5px ' + SANS, align: 'left', color: '#000' });
      });
      put(ctx, 'abs(log2FoldChange)', 1086, 1034, { font: '12.5px ' + SANS, align: 'left', color: '#000' });
      eSizeKeys.forEach((v, i) => {
        const cy = 1048.3 + i * 12.8;
        dot(ctx, 1092.7, cy, eR(v), '#000');
        put(ctx, String(v), 1102.7, cy, { font: '12.5px ' + SANS, align: 'left', color: '#000' });
      });
    }
  }]
});

// ---------------- F & G ----------------
const ONT = { 'GO:BP': '#F8766D', 'GO:CC': '#7CAE00', 'GO:MF': '#00BFC4', 'KEGG': '#C77CFF' };
function goChart(id, P) {
  const maj = c => c.tick && isMul(c.tick.value, P.major);
  new Chart(el(id), {
    type: 'bar',
    data: { labels: P.terms, datasets: [{ data: P.vals, backgroundColor: P.ont.map(k => ONT[k]),
      barPercentage: P.bp, categoryPercentage: 1 }] },
    options: opts(frame(P.area[0], P.area[1], P.area[2], P.area[3], 30, 40), {
      x: { type: 'linear', min: P.xr[0], max: P.xr[1], afterBuildTicks: setTicks(P.xt), afterFit: fixH(40),
           border: { display: false },
           grid: { color: '#FFFFFF', lineWidth: c => maj(c) ? 1.1 : 0.5, tickLength: 3.5,
                   tickColor: c => maj(c) ? '#333' : 'rgba(0,0,0,0)' },
           ticks: { autoSkip: false, maxRotation: 0, minRotation: 0, padding: 0, color: '#4D4D4D', font: { size: P.xfs },
                    callback: v => isMul(v, P.major) ? P.fmt(v) : '' } },
      y: { afterFit: fixW(30), border: { display: false },
           grid: { offset: false, color: '#FFFFFF', lineWidth: 1.1, tickLength: 3.5, tickColor: '#333' },
           ticks: { display: false } }
    }, 'y'),
    plugins: [{
      id: 'go',
      beforeDraw(chart) {
        const { ctx, chartArea: ca } = chart;
        ctx.save(); ctx.fillStyle = '#EBEBEB';
        ctx.fillRect(ca.left, ca.top, ca.right - ca.left, ca.bottom - ca.top); ctx.restore();
      },
      afterDraw(chart) {
        const { ctx, chartArea: ca, scales: { y } } = chart;
        P.terms.forEach((t, i) => put(ctx, t, ca.left - P.gap, y.getPixelForValue(i),
          { font: P.lfs + 'px ' + SANS, sx: P.lsx, align: 'right', color: '#4D4D4D' }));
        put(ctx, '-log10(p.adjusted)', P.xTitle[0], P.xTitle[1], { font: P.tfs + 'px ' + SANS, sx: 0.78, color: '#000' });
        put(ctx, 'terms', P.yTitle[0], P.yTitle[1], { font: P.tfs + 'px ' + SANS, rot: -Math.PI / 2, color: '#000' });
        if (P.legend) {
          put(ctx, 'Ontology', 1740, 116.7, { font: '15px ' + SANS, sx: 0.78, align: 'left', color: '#000' });
          ontologyKeys.forEach((k, i) => {
            ctx.fillStyle = ONT[k]; ctx.fillRect(1741, 128.5 + i * 18.7, 14, 17);
            put(ctx, k, 1760, 137 + i * 18.7, { font: '14px ' + SANS, sx: 0.78, align: 'left', color: '#000' });
          });
        }
      }
    }]
  });
}
goChart('chartF', {
  terms: fTerms, vals: fValues, ont: expand(fGroups), bp: 0.52,
  area: [1554.3, 106, 1689.3, 296.7], xr: [-0.088, 1.764], xt: fXTicks, major: 0.5, xfs: 12, fmt: v => v.toFixed(1),
  lfs: 11.5, lsx: 0.76, gap: 5, tfs: 15.5, xTitle: [1628, 333], yTitle: [1326.7, 208], legend: true
});
goChart('chartG', {
  terms: gTerms, vals: gValues, ont: expand(gGroups), bp: 0.5,
  area: [1501, 425, 1733.3, 1136], xr: [-0.44, 8.61], xt: gXTicks, major: 2, xfs: 13, fmt: v => String(v),
  lfs: 9.6, lsx: 0.73, gap: 4.5, tfs: 16, xTitle: [1629.3, 1171.7], yTitle: [1247, 783], legend: false
});
</script>
</body>
</html>
